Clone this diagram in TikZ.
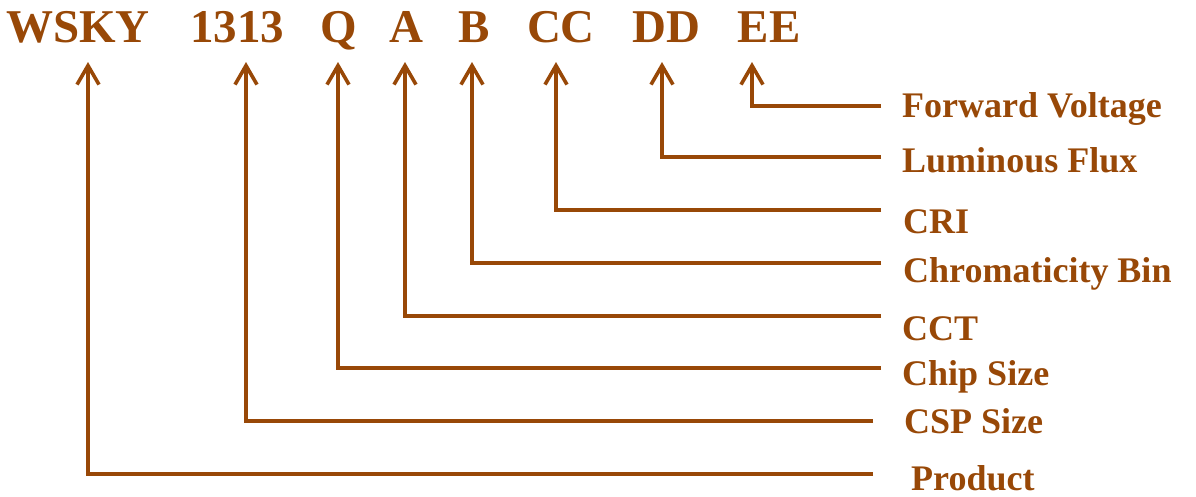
\documentclass[tikz,border=0pt]{standalone}
\usepackage{fontspec}
\setmainfont{Liberation Serif}
\usetikzlibrary{arrows.meta}
\definecolor{brn}{HTML}{984807}
\begin{document}
\begin{tikzpicture}[x=1pt,y=-1pt,
  code/.style={font=\fontsize{47}{47}\selectfont\bfseries, text=brn, inner sep=0pt, anchor=base},
  lbl/.style={font=\fontsize{36}{36}\selectfont\bfseries, text=brn, inner sep=0pt, anchor=base west},
  conn/.style={draw=brn, line width=3.6pt, -{Straight Barb[length=19pt,width=22pt,line width=3.6pt]}}]
\useasboundingbox (0,0) rectangle (1196,496);
% part-number codes
\node[code] (wsky) at (78,42) {WSKY};
\node[code] (n1313) at (237,42) {1313};
\node[code] (q) at (338.5,42) {Q};
\node[code] (a) at (406,42) {A};
\node[code] (b) at (474,42) {B};
\node[code] (cc) at (561,42) {CC};
\node[code] (dd) at (666,42) {DD};
\node[code] (ee) at (769,42) {EE};
% arrow tips
\coordinate (tW) at (88,62);
\coordinate (t1) at (246,62);
\coordinate (tQ) at (338,62);
\coordinate (tA) at (405,62);
\coordinate (tB) at (472,62);
\coordinate (tC) at (556,62);
\coordinate (tD) at (662,62);
\coordinate (tE) at (752,62);
% line ends
\coordinate (eE) at (881,106);
\coordinate (eD) at (881,157);
\coordinate (eC) at (881,210);
\coordinate (eB) at (881,263);
\coordinate (eA) at (881,316);
\coordinate (eQ) at (881,368);
\coordinate (e1) at (873,421);
\coordinate (eW) at (873,474);
% labels
\node[lbl] (fv) at (902,117) {Forward Voltage};
\node[lbl] (lf) at (902,172) {Luminous Flux};
\node[lbl] (cri) at (903,233) {CRI};
\node[lbl] (cb) at (903,282) {Chromaticity Bin};
\node[lbl] (cct) at (902,340) {CCT};
\node[lbl] (cs) at (902,385) {Chip Size};
\node[lbl] (csp) at (904,433) {CSP Size};
\node[lbl] (prod) at (911,490) {Product};
% connectors
\draw[conn] (eE) -| (tE);
\draw[conn] (eD) -| (tD);
\draw[conn] (eC) -| (tC);
\draw[conn] (eB) -| (tB);
\draw[conn] (eA) -| (tA);
\draw[conn] (eQ) -| (tQ);
\draw[conn] (e1) -| (t1);
\draw[conn] (eW) -| (tW);
\end{tikzpicture}
\end{document}
